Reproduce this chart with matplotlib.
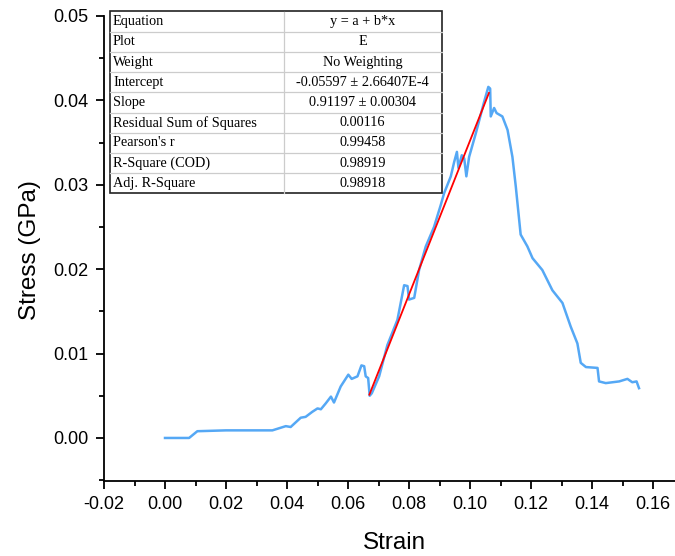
import numpy as np
import matplotlib
matplotlib.use("Agg")
import matplotlib.pyplot as plt
from matplotlib.ticker import MultipleLocator
from matplotlib.patches import Rectangle
from matplotlib.lines import Line2D

# curva esfuerzo-deformacion
strain = [0.0000, 0.0079, 0.0106, 0.0200, 0.0352, 0.0396, 0.0412, 0.0445, 0.0461,
          0.0483, 0.0500, 0.0511, 0.0527, 0.0544, 0.0554, 0.0576, 0.0601, 0.0612,
          0.0631, 0.0644, 0.0653, 0.0658, 0.0666, 0.0671, 0.0678, 0.0702, 0.0729,
          0.0762, 0.0784, 0.0795, 0.0800, 0.0817, 0.0833, 0.0855, 0.0882, 0.0904,
          0.0915, 0.0937, 0.0948, 0.0957, 0.0962, 0.0973, 0.0981, 0.0988, 0.0997,
          0.1019, 0.1046, 0.1060, 0.1066, 0.1068, 0.1079, 0.1087, 0.1106, 0.1123,
          0.1139, 0.1150, 0.1166, 0.1188, 0.1205, 0.1237, 0.1270, 0.1303, 0.1330,
          0.1352, 0.1363, 0.1380, 0.1418, 0.1423, 0.1445, 0.1489, 0.1516, 0.1532,
          0.1546, 0.1554]
stress = [0.0000, 0.0000, 0.0008, 0.0009, 0.0009, 0.0014, 0.0013, 0.0024, 0.0025,
          0.0031, 0.0035, 0.0034, 0.0041, 0.0049, 0.0042, 0.0061, 0.0075, 0.0070,
          0.0073, 0.0086, 0.0085, 0.0073, 0.0071, 0.0050, 0.0053, 0.0073, 0.0110,
          0.0140, 0.0181, 0.0180, 0.0164, 0.0166, 0.0199, 0.0227, 0.0250, 0.0276,
          0.0290, 0.0310, 0.0327, 0.0339, 0.0320, 0.0335, 0.0331, 0.0310, 0.0333,
          0.0361, 0.0398, 0.0416, 0.0414, 0.0381, 0.0391, 0.0385, 0.0381, 0.0365,
          0.0333, 0.0298, 0.0241, 0.0227, 0.0213, 0.0199, 0.0175, 0.0160, 0.0132,
          0.0112, 0.0089, 0.0084, 0.0083, 0.0067, 0.0065, 0.0067, 0.0070, 0.0066,
          0.0067, 0.0059]

# ajuste lineal
intercept = -0.05597
slope = 0.91197
fit_range = [0.0670, 0.1062]

table_names = ["Equation", "Plot", "Weight", "Intercept", "Slope",
               "Residual Sum of Squares", "Pearson's r", "R-Square (COD)", "Adj. R-Square"]
table_values = ["y = a + b*x", "E", "No Weighting", "-0.05597 \u00b1 2.66407E-4",
                "0.91197 \u00b1 0.00304", "0.00116", "0.99458", "0.98919", "0.98918"]

W, H = 675, 556
fig = plt.figure(figsize=(W / 100, H / 100), dpi=100)
ax = fig.add_axes([104 / W, (H - 481) / H, (W - 104) / W, (481 - 16) / H])

ax.plot(strain, stress, color="#55a8f5", lw=1.8, zorder=2)
fx = np.array(fit_range)
ax.plot(fx, intercept + slope * fx, color="red", lw=1.3, zorder=3)

ax.set_xlim(-0.02, 0.1672)
ax.set_ylim(-0.0051, 0.05)
ax.xaxis.set_major_locator(MultipleLocator(0.02))
ax.xaxis.set_minor_locator(MultipleLocator(0.01))
ax.yaxis.set_major_locator(MultipleLocator(0.01))
ax.yaxis.set_minor_locator(MultipleLocator(0.005))
ax.xaxis.set_major_formatter(plt.FuncFormatter(lambda v, p: f"{v:.2f}"))
ax.yaxis.set_major_formatter(plt.FuncFormatter(lambda v, p: f"{v:.2f}"))

for s in ["top", "right"]:
    ax.spines[s].set_visible(False)
for s in ["left", "bottom"]:
    ax.spines[s].set_linewidth(1.3)

ax.tick_params(which="major", direction="out", length=6, width=1.3, labelsize=13, pad=5)
ax.tick_params(which="minor", direction="out", length=3.5, width=1.3)
for lab in ax.get_xticklabels() + ax.get_yticklabels():
    lab.set_family("Liberation Sans")

fig.text(30 / W, 1 - 250 / H, "Stress (GPa)", rotation=90, ha="center", va="center",
         fontsize=17.5, family="Liberation Sans")
fig.text(394 / W, 1 - 543 / H, "Strain", ha="center", va="center",
         fontsize=17.5, family="Liberation Sans")

# tabla de resultados del ajuste
x0, x1, xm = 109.5, 442, 283.5
y0, y1 = 11.5, 193.5
rh = (y1 - y0) / len(table_names)
tr = fig.transFigure
def fx_(px):
    return px / W
def fy_(py):
    return 1 - py / H

fig.patches.append(Rectangle((fx_(x0), fy_(y1)), (x1 - x0) / W, (y1 - y0) / H,
                             transform=tr, facecolor="white", edgecolor="#222222",
                             lw=1.2, zorder=5))
for i in range(1, len(table_names)):
    yy = y0 + i * rh
    fig.lines.append(Line2D([fx_(x0), fx_(x1)], [fy_(yy), fy_(yy)], transform=tr,
                            color="#cccccc", lw=0.9, zorder=6))
fig.lines.append(Line2D([fx_(xm), fx_(xm)], [fy_(y0), fy_(y1)], transform=tr,
                        color="#cccccc", lw=0.9, zorder=6))
for i, (n, v) in enumerate(zip(table_names, table_values)):
    yc = y0 + (i + 0.5) * rh
    fig.text(fx_(x0 + 3.5), fy_(yc), n, ha="left", va="center", fontsize=10.3,
             family="Liberation Serif", zorder=7)
    fig.text(fx_((xm + x1) / 2), fy_(yc), v, ha="center", va="center", fontsize=10.3,
             family="Liberation Serif", zorder=7)

fig.savefig("out.png", dpi=100)
